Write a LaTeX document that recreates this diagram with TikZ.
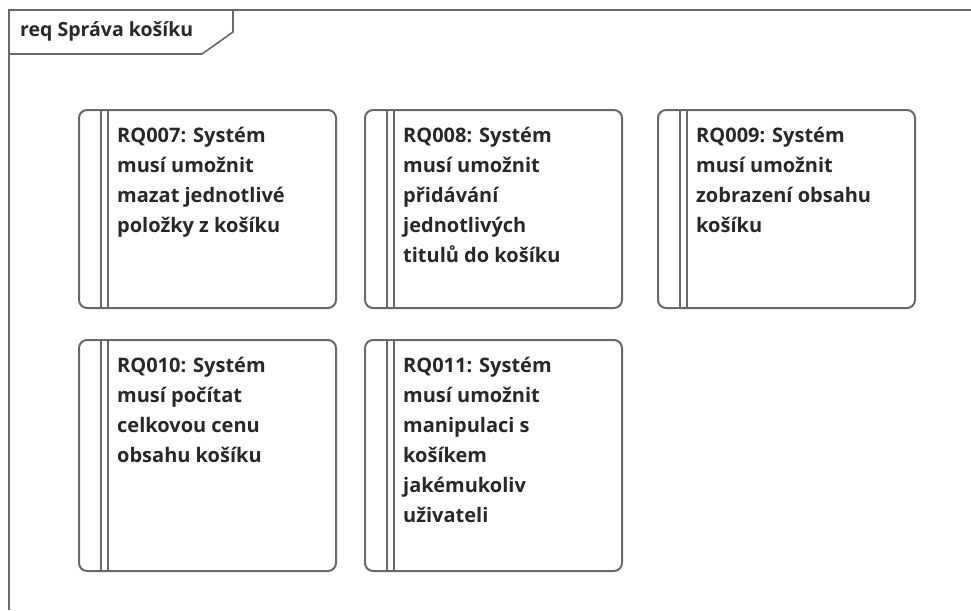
\documentclass[tikz,border=0pt]{standalone}
\usepackage{fontspec}
\setmainfont{Open Sans}
\usepackage{xcolor}
\usepackage{tikz}

\definecolor{linegray}{RGB}{105,105,105}
\definecolor{textgray}{RGB}{40,40,40}
\tikzset{
  frameline/.style={draw=linegray, line width=1.6pt},
  reqbox/.style={draw=linegray, line width=2pt, rounded corners=8pt, minimum width=257pt, anchor=north west, inner sep=0pt},
  reqline/.style={draw=linegray, line width=2pt},
  reqtext/.style={anchor=north west, align=left, inner sep=0pt, text=textgray, font=\bfseries\fontsize{20}{30}\selectfont},
}

\begin{document}
\begin{tikzpicture}[x=1pt,y=-1pt]
\useasboundingbox (0,0) rectangle (971,610);
\draw[frameline] (9,610) -- (9,10) -- (971,10);
\draw[frameline] (9,54) -- (202,54) -- (233,32) -- (233,10);
\node[reqtext, font=\bfseries\fontsize{19.5}{28}\selectfont] (title) at (20,21) {req Správa košíku};
\foreach \name/\x/\y/\h/\txt in {
  rq7/78/109/198/{RQ007: Systém\\musí umožnit\\mazat jednotlivé\\položky z košíku},
  rq8/364/109/198/{RQ008: Systém\\musí umožnit\\přidávání\\jednotlivých\\titulů do košíku},
  rq9/657/109/198/{RQ009: Systém\\musí umožnit\\zobrazení obsahu\\košíku},
  rq10/78/339/231/{RQ010: Systém\\musí počítat\\celkovou cenu\\obsahu košíku},
  rq11/364/339/231/{RQ011: Systém\\musí umožnit\\manipulaci s\\košíkem\\jakémukoliv\\uživateli}}{
\node[reqbox, minimum height=\h pt] (\name) at (\x,\y) {};
\draw[reqline] ([xshift=23pt]\name.north west) -- ([xshift=23pt]\name.south west);
\draw[reqline] ([xshift=30pt]\name.north west) -- ([xshift=30pt]\name.south west);
\node[reqtext] (\name-text) at ([xshift=39pt,yshift=-18pt]\name.north west) {\txt};
}
\end{tikzpicture}
\end{document}
